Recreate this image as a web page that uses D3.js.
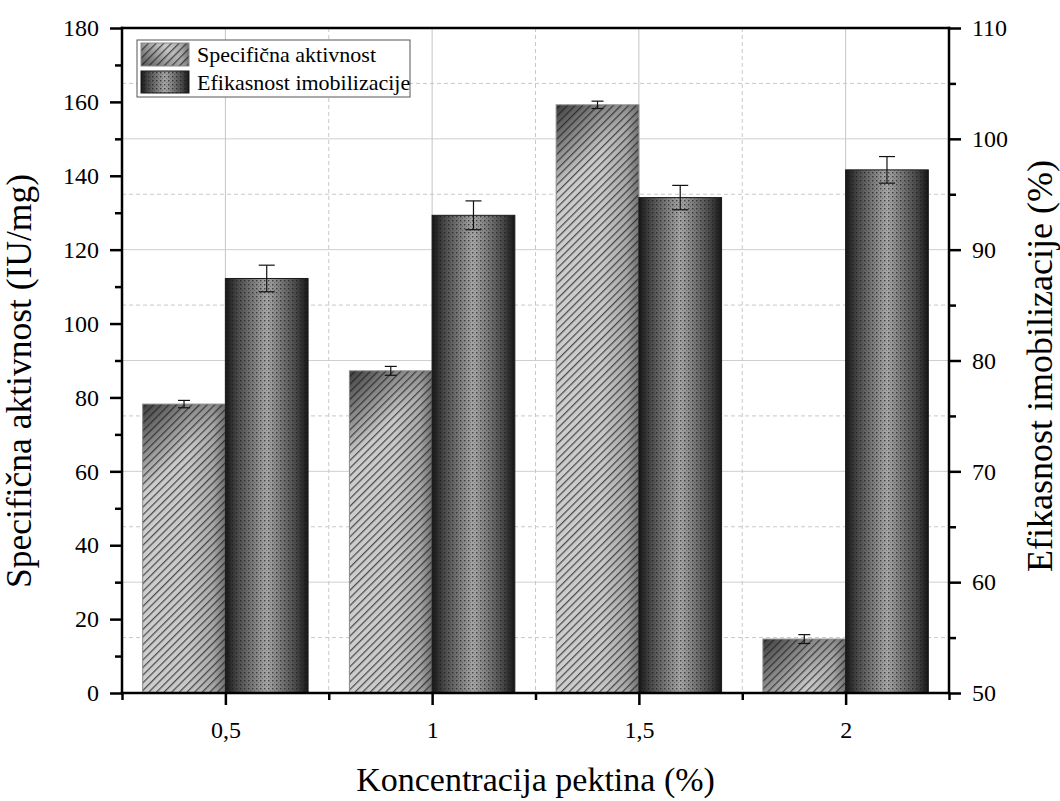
<!DOCTYPE html>
<html><head><meta charset="utf-8">
<script src="https://cdn.jsdelivr.net/npm/d3@7"></script>
<style>html,body{margin:0;padding:0;background:#fff;} svg{display:block;}</style>
</head><body>
<svg id="chart" width="1060" height="801"></svg>
<script>
const categories = [0.5, 1, 1.5, 2];
const categoryLabels = ["0,5", "1", "1,5", "2"];
const specValues = [78.2, 87.2, 159.2, 14.6];
const specErrors = [1.0, 1.2, 1.0, 1.2];
const effValues = [87.4, 93.1, 94.7, 97.2];
const effErrors = [1.2, 1.3, 1.1, 1.2];
const leftTicks = [0, 20, 40, 60, 80, 100, 120, 140, 160, 180];
const leftMinorTicks = [10, 30, 50, 70, 90, 110, 130, 150, 170];
const rightTicks = [50, 60, 70, 80, 90, 100, 110];
const rightMinorTicks = [55, 65, 75, 85, 95, 105];
const xMinorTicks = [0.25, 0.75, 1.25, 1.75, 2.25];
const seriesNames = ["Specifična aktivnost", "Efikasnost imobilizacije"];
const xTitle = "Koncentracija pektina (%)";
const yLeftTitle = "Specifična aktivnost (IU/mg)";
const yRightTitle = "Efikasnost imobilizacije (%)";

const FONT = "'Liberation Serif','Times New Roman',serif";
const svg = d3.select("#chart");
const L = 122, R = 949, T = 28, B = 693;
const x = d3.scaleLinear().domain([0.25, 2.25]).range([L, R]);
const yL = d3.scaleLinear().domain([0, 180]).range([B, T]);
const yR = d3.scaleLinear().domain([50, 110]).range([B, T]);
const barW = 0.2;

const defs = svg.append("defs");
const hatch = defs.append("pattern").attr("id", "hatch").attr("patternUnits", "userSpaceOnUse")
  .attr("width", 5.4).attr("height", 5.4).attr("patternTransform", "rotate(45)");
hatch.append("line").attr("x1", 0.7).attr("y1", 0).attr("x2", 0.7).attr("y2", 5.4)
  .attr("stroke", "#1a1a1a").attr("stroke-width", 0.9);
const dots = defs.append("pattern").attr("id", "dots").attr("patternUnits", "userSpaceOnUse")
  .attr("width", 4).attr("height", 4);
dots.append("rect").attr("x", 0).attr("y", 0).attr("width", 1.4).attr("height", 1.4).attr("fill", "#1a1a1a").attr("opacity", 0.7);
dots.append("rect").attr("x", 2).attr("y", 2).attr("width", 1).attr("height", 1).attr("fill", "#333").attr("opacity", 0.4);
const eg = defs.append("linearGradient").attr("id", "effGrad").attr("x1", 0).attr("x2", 1).attr("y1", 0).attr("y2", 0);
[[0, "#151515"], [0.15, "#4a4a4a"], [0.5, "#a6a6a6"], [0.85, "#4a4a4a"], [1, "#151515"]]
  .forEach(s => eg.append("stop").attr("offset", s[0]).attr("stop-color", s[1]));
const sg = defs.append("linearGradient").attr("id", "specGrad").attr("x1", 0).attr("x2", 1).attr("y1", 0).attr("y2", 0);
[[0, "#cecece"], [0.55, "#c8c8c8"], [0.85, "#a8a8a8"], [1, "#707070"]]
  .forEach(s => sg.append("stop").attr("offset", s[0]).attr("stop-color", s[1]));

// grid
const grid = svg.append("g");
rightTicks.filter(v => v > 50 && v < 110).forEach(v => {
  grid.append("line").attr("x1", L).attr("x2", R).attr("y1", yR(v)).attr("y2", yR(v))
    .attr("stroke", "#cfcfcf").attr("stroke-width", 1);
});
rightMinorTicks.forEach(v => {
  grid.append("line").attr("x1", L).attr("x2", R).attr("y1", yR(v)).attr("y2", yR(v))
    .attr("stroke", "#c8c8c8").attr("stroke-width", 1).attr("stroke-dasharray", "4,3");
});
categories.forEach(v => {
  grid.append("line").attr("x1", x(v)).attr("x2", x(v)).attr("y1", T).attr("y2", B)
    .attr("stroke", "#c4c4c4").attr("stroke-width", 1);
});
xMinorTicks.filter(v => v > 0.25 && v < 2.25).forEach(v => {
  grid.append("line").attr("x1", x(v)).attr("x2", x(v)).attr("y1", T).attr("y2", B)
    .attr("stroke", "#c8c8c8").attr("stroke-width", 1).attr("stroke-dasharray", "4,3");
});

// spec bars
const specG = svg.append("g");
categories.forEach((c, i) => {
  const bx = x(c - barW), bw = x(c) - x(c - barW), by = yL(specValues[i]), bh = B - by;
  const gid = "corner" + i;
  const cg = defs.append("linearGradient").attr("id", gid).attr("gradientUnits", "userSpaceOnUse")
    .attr("x1", bx).attr("y1", by).attr("x2", bx + bw * 0.55).attr("y2", by + bw * 0.55);
  cg.append("stop").attr("offset", 0).attr("stop-color", "#000").attr("stop-opacity", 0.7);
  cg.append("stop").attr("offset", 1).attr("stop-color", "#000").attr("stop-opacity", 0);
  specG.append("rect").attr("x", bx).attr("y", by).attr("width", bw).attr("height", bh).attr("fill", "url(#specGrad)");
  specG.append("rect").attr("x", bx).attr("y", by).attr("width", bw).attr("height", bh).attr("fill", "url(#" + gid + ")");
  specG.append("rect").attr("x", bx).attr("y", by).attr("width", bw).attr("height", bh).attr("fill", "url(#hatch)");
  specG.append("rect").attr("x", bx).attr("y", by).attr("width", bw).attr("height", bh)
    .attr("fill", "none").attr("stroke", "#8a8a8a").attr("stroke-width", 1);
});
// eff bars
const effG = svg.append("g");
categories.forEach((c, i) => {
  const bx = x(c), bw = x(c + barW) - x(c), by = yR(effValues[i]), bh = B - by;
  effG.append("rect").attr("x", bx).attr("y", by).attr("width", bw).attr("height", bh).attr("fill", "url(#effGrad)");
  effG.append("rect").attr("x", bx).attr("y", by).attr("width", bw).attr("height", bh).attr("fill", "url(#dots)");
  effG.append("rect").attr("x", bx).attr("y", by).attr("width", bw).attr("height", bh)
    .attr("fill", "none").attr("stroke", "#1a1a1a").attr("stroke-width", 1);
});

// error bars
const err = svg.append("g").attr("stroke", "#111").attr("stroke-width", 1.2);
categories.forEach((c, i) => {
  const cx = x(c - barW / 2);
  const y1 = yL(specValues[i] + specErrors[i]), y2 = yL(specValues[i] - specErrors[i]);
  err.append("line").attr("x1", cx).attr("x2", cx).attr("y1", y1).attr("y2", y2);
  err.append("line").attr("x1", cx - 6).attr("x2", cx + 6).attr("y1", y1).attr("y2", y1);
  err.append("line").attr("x1", cx - 6).attr("x2", cx + 6).attr("y1", y2).attr("y2", y2);
  const ex = x(c + barW / 2);
  const e1 = yR(effValues[i] + effErrors[i]), e2 = yR(effValues[i] - effErrors[i]);
  err.append("line").attr("x1", ex).attr("x2", ex).attr("y1", e1).attr("y2", e2);
  err.append("line").attr("x1", ex - 8).attr("x2", ex + 8).attr("y1", e1).attr("y2", e1);
  err.append("line").attr("x1", ex - 8).attr("x2", ex + 8).attr("y1", e2).attr("y2", e2);
});

// axes
function styleAxis(g) {
  g.attr("font-family", FONT).attr("font-size", 24);
  g.select(".domain").remove();
  g.selectAll(".tick line").attr("stroke", "#000").attr("stroke-width", 2.5);
  g.selectAll("text").attr("font-family", FONT).attr("font-size", 24).attr("fill", "#000");
}
svg.append("g").attr("transform", `translate(${L},0)`)
  .call(d3.axisLeft(yL).tickValues(leftTicks).tickSize(12).tickPadding(11)).call(styleAxis);
svg.append("g").attr("transform", `translate(${L},0)`)
  .call(d3.axisLeft(yL).tickValues(leftMinorTicks).tickSize(7).tickFormat("")).call(styleAxis);
svg.append("g").attr("transform", `translate(${R},0)`)
  .call(d3.axisRight(yR).tickValues(rightTicks).tickSize(12).tickPadding(11)).call(styleAxis);
svg.append("g").attr("transform", `translate(${R},0)`)
  .call(d3.axisRight(yR).tickValues(rightMinorTicks).tickSize(7).tickFormat("")).call(styleAxis);
const xAx = svg.append("g").attr("transform", `translate(0,${B})`)
  .call(d3.axisBottom(x).tickValues(categories).tickSize(12).tickFormat((d, i) => categoryLabels[i])).call(styleAxis);
xAx.selectAll("text").attr("y", 45).attr("dy", 0);
svg.append("g").attr("transform", `translate(0,${B})`)
  .call(d3.axisBottom(x).tickValues(xMinorTicks).tickSize(7).tickFormat("")).call(styleAxis);

// frame lines
const frame = svg.append("g").attr("stroke", "#000").attr("stroke-width", 2.5).attr("stroke-linecap", "square");
frame.append("line").attr("x1", L).attr("x2", L).attr("y1", T).attr("y2", B);
frame.append("line").attr("x1", R).attr("x2", R).attr("y1", T).attr("y2", B);
frame.append("line").attr("x1", L).attr("x2", R).attr("y1", B).attr("y2", B);
frame.append("line").attr("x1", L).attr("x2", R).attr("y1", T).attr("y2", T);

// titles
svg.append("text").attr("x", (L + R) / 2).attr("y", 791).attr("text-anchor", "middle")
  .attr("font-family", FONT).attr("font-size", 34).text(xTitle);
svg.append("text").attr("transform", `translate(31,381) rotate(-90)`).attr("text-anchor", "middle")
  .attr("font-family", FONT).attr("font-size", 35.5).text(yLeftTitle);
svg.append("text").attr("transform", `translate(1052,366) rotate(-90)`).attr("text-anchor", "middle")
  .attr("font-family", FONT).attr("font-size", 36).text(yRightTitle);

// legend
const lg = svg.append("g");
lg.append("rect").attr("x", 137).attr("y", 40).attr("width", 273).attr("height", 57)
  .attr("fill", "#fff").attr("stroke", "#555").attr("stroke-width", 1);
const sw1 = {x: 141, y: 43, w: 48, h: 23};
const cgl = defs.append("linearGradient").attr("id", "cornerLeg").attr("gradientUnits", "userSpaceOnUse")
  .attr("x1", sw1.x).attr("y1", sw1.y + sw1.h).attr("x2", sw1.x + 20).attr("y2", sw1.y);
cgl.append("stop").attr("offset", 0).attr("stop-color", "#000").attr("stop-opacity", 0.6);
cgl.append("stop").attr("offset", 1).attr("stop-color", "#000").attr("stop-opacity", 0);
["url(#specGrad)", "url(#cornerLeg)", "url(#hatch)"].forEach(f =>
  lg.append("rect").attr("x", sw1.x).attr("y", sw1.y).attr("width", sw1.w).attr("height", sw1.h).attr("fill", f));
lg.append("rect").attr("x", sw1.x).attr("y", sw1.y).attr("width", sw1.w).attr("height", sw1.h)
  .attr("fill", "none").attr("stroke", "#8a8a8a");
const sw2 = {x: 141, y: 71, w: 48, h: 22};
["url(#effGrad)", "url(#dots)"].forEach(f =>
  lg.append("rect").attr("x", sw2.x).attr("y", sw2.y).attr("width", sw2.w).attr("height", sw2.h).attr("fill", f));
lg.append("rect").attr("x", sw2.x).attr("y", sw2.y).attr("width", sw2.w).attr("height", sw2.h)
  .attr("fill", "none").attr("stroke", "#1a1a1a");
lg.append("text").attr("x", 197).attr("y", 62).attr("font-family", FONT).attr("font-size", 22).text(seriesNames[0]);
lg.append("text").attr("x", 197).attr("y", 90).attr("font-family", FONT).attr("font-size", 22).text(seriesNames[1]);
</script>
</body></html>
